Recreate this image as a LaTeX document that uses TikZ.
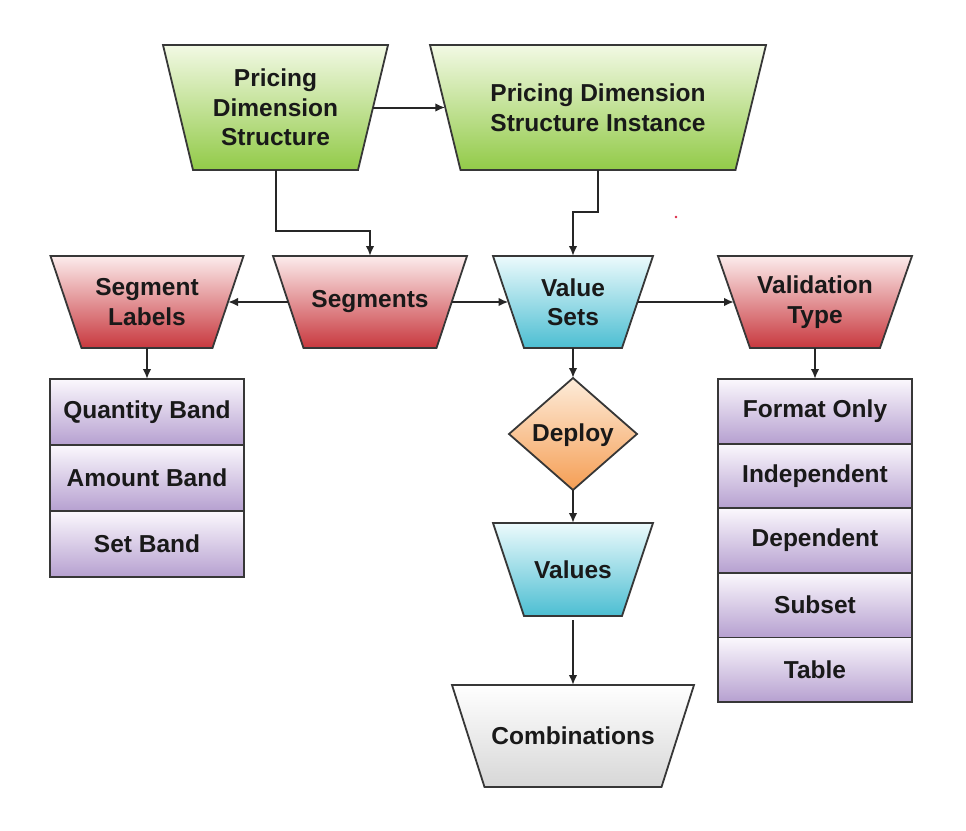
\documentclass[tikz,border=0pt]{standalone}
\usepackage{fontspec}
\setmainfont{Liberation Sans}
\usetikzlibrary{shapes.geometric,arrows.meta}
\definecolor{edgegray}{RGB}{55,55,55}
\definecolor{greenTop}{RGB}{242,249,228}
\definecolor{greenBot}{RGB}{146,202,72}
\definecolor{redTop}{RGB}{252,236,236}
\definecolor{redBot}{RGB}{200,56,62}
\definecolor{cyanTop}{RGB}{236,250,252}
\definecolor{cyanBot}{RGB}{76,190,210}
\definecolor{orangeTop}{RGB}{253,236,218}
\definecolor{orangeBot}{RGB}{245,158,84}
\definecolor{purpleTop}{RGB}{251,248,253}
\definecolor{purpleBot}{RGB}{182,160,208}
\definecolor{grayTop}{RGB}{255,255,255}
\definecolor{grayBot}{RGB}{215,215,215}
\definecolor{dotred}{RGB}{220,40,70}
% #1 name, #2 cx, #3 cy, #4 top width, #5 bottom width, #6 height, #7 fill style, #8 text
\newcommand\trapnode[8]{%
  \path[shapeline,#7] ({#2-#4/2},{#3-#6/2}) -- ({#2+#4/2},{#3-#6/2})
     -- ({#2+#5/2},{#3+#6/2}) -- ({#2-#5/2},{#3+#6/2}) -- cycle;
  \node[textbox, minimum width={(#4+#5)/2}, minimum height={#6}] (#1) at (#2,#3) {#8};}
\begin{document}
\begin{tikzpicture}[x=1pt,y=-1pt,
  txt/.style={text=black!90, align=center,
    font=\fontsize{24.5}{29.5}\selectfont\bfseries, inner sep=0pt, outer sep=0pt},
  shapeline/.style={draw=edgegray, line width=1.8pt, line join=miter},
  textbox/.style={txt, rectangle},
  base/.style={txt, shapeline},
  gfill/.style={top color=greenTop, bottom color=greenBot},
  rfill/.style={top color=redTop, bottom color=redBot},
  cfill/.style={top color=cyanTop, bottom color=cyanBot},
  ofill/.style={top color=orangeTop, bottom color=orangeBot},
  pfill/.style={top color=purpleTop, bottom color=purpleBot},
  wfill/.style={top color=grayTop, bottom color=grayBot},
  listbox/.style={base, rectangle, pfill, minimum width=194pt},
  arr/.style={draw=black!85, line width=2pt, -{Latex[length=10pt,width=8.5pt]}}
]
\fill[white] (0,0) rectangle (966,830);
\useasboundingbox (0,0) rectangle (966,830);

% top row
\trapnode{pds}{275.5}{107.5}{225}{165}{125}{gfill}{Pricing\\Dimension\\Structure}
\trapnode{pdsi}{598}{107.5}{336}{275}{125}{gfill}{Pricing Dimension\\Structure Instance}

% second row
\trapnode{sl}{147}{302}{193}{131}{92}{rfill}{Segment\\Labels}
\trapnode{seg}{370}{302}{194}{133}{92}{rfill}{Segments}
\trapnode{vs}{573}{302}{160}{98}{92}{cfill}{Value\\Sets}
\trapnode{vt}{815}{302}{194}{130}{92}{rfill}{Validation\\Type}

% left list
\node[listbox, minimum height=66pt] (qb) at (147,412) {Quantity Band};
\node[listbox, minimum height=66pt] (ab) at (147,478) {Amount Band};
\node[listbox, minimum height=66pt] (sb) at (147,544) {Set Band};

% right list
\node[listbox, minimum height=64.6pt] (fo) at (815,411.3) {Format Only};
\node[listbox, minimum height=64.6pt] (ind) at (815,475.9) {Independent};
\node[listbox, minimum height=64.6pt] (dep) at (815,540.5) {Dependent};
\node[listbox, minimum height=64.6pt] (sub) at (815,605.1) {Subset};
\node[listbox, minimum height=64.6pt] (tab) at (815,669.7) {Table};

% middle column
\node[base, diamond, ofill, minimum width=128pt, minimum height=112pt, text depth=2pt] (deploy) at (573,434) {Deploy};
\trapnode{vals}{573}{569.5}{160}{98}{93}{cfill}{Values}
\trapnode{comb}{573}{736}{242}{177}{102}{wfill}{Combinations}

% connectors
\draw[arr] (pds) -- (pdsi);
\draw[arr] (pds.south) -- (pds.south |- 0,231) -| (seg.north);
\draw[arr] (pdsi.south) -- (pdsi.south |- 0,212) -| (vs.north);
\draw[arr] (seg) -- (sl);
\draw[arr] (seg) -- (vs);
\draw[arr] (vs) -- (vt);
\draw[arr] (sl) -- (qb);
\draw[arr] (vt) -- (fo);
\draw[arr] (vs) -- (deploy);
\draw[arr] (deploy) -- (vals);
\draw[arr] ([yshift=-4pt]vals.south) -- (comb);

% small red mark
\fill[dotred] (676,217) circle (1.3);
\end{tikzpicture}
\end{document}
